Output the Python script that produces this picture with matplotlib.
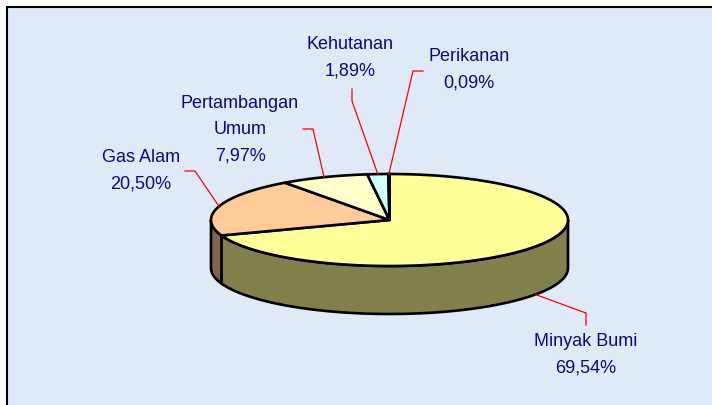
import numpy as np
import matplotlib.pyplot as plt
from matplotlib.patches import Polygon, Rectangle
from matplotlib import colors as mcolors

# data
sektor = ['Minyak Bumi', 'Gas Alam', 'Pertambangan\nUmum', 'Kehutanan', 'Perikanan']
persen = [69.54, 20.50, 7.97, 1.89, 0.09]
warna = ['#FFFF99', '#FFCC99', '#FFFFCC', '#CCFFFF', '#660066']

# label layout (pixel coords): text centre, leader elbow, leader end
teks_xy = [(586, 355), (141, 171), (240, 130), (350, 58), (469, 70)]
siku = [(586, 314), (195, 172), (313, 130), (352, 102), (413, 72)]
ujung = [(586, 326), (185, 172), (303, 130), (352, 90), (423, 72)]

W, H = 712, 406
cx, cy = 389.5, 221.0   # pie centre
a, b = 178.5, 46.0      # ellipse radii
depth = 48.0

fig = plt.figure(figsize=(W / 100, H / 100), dpi=100)
ax = fig.add_axes([0, 0, 1, 1])
ax.set_xlim(0, W)
ax.set_ylim(H, 0)
ax.axis('off')

ax.add_patch(Rectangle((7, 8), W + 10, H + 10, facecolor='#E0EAF7',
                       edgecolor='black', lw=1.5, zorder=0))


def titik(t, dy=0.0):
    t = np.radians(t)
    return cx + a * np.cos(t), cy - b * np.sin(t) + dy


# angles: start at 12 o'clock, clockwise
cum = np.concatenate([[0], np.cumsum(persen)])
t0 = 90 - 360 * cum[:-1] / 100
t1 = 90 - 360 * cum[1:] / 100

# side faces (front half only)
for i in range(len(persen)):
    sisi = [c * 0.5 for c in mcolors.to_rgb(warna[i])]
    for k in (-1, 0, 1):
        lo, hi = -180 - 360 * k, -360 * k
        s, e = max(t1[i], lo), min(t0[i], hi)
        if e <= s:
            continue
        tt = np.linspace(s, e, 100)
        xs, ys = titik(tt)
        xb, yb = titik(tt[::-1], depth)
        pts = np.column_stack([np.concatenate([xs, xb]), np.concatenate([ys, yb])])
        ax.add_patch(Polygon(pts, closed=True, facecolor=sisi,
                             edgecolor='black', lw=1.9, zorder=2))

# top faces
for i in range(len(persen)):
    tt = np.linspace(t0[i], t1[i], 200)
    xs, ys = titik(tt)
    pts = np.column_stack([np.concatenate([[cx], xs]), np.concatenate([[cy], ys])])
    ax.add_patch(Polygon(pts, closed=True, facecolor=warna[i],
                         edgecolor='black', lw=1.9, zorder=3))

# leader lines and labels
for i in range(len(persen)):
    tm = (t0[i] + t1[i]) / 2
    depan = np.sin(np.radians(tm)) < 0
    x0, y0 = titik(tm, depth if depan else 0.0)
    ax.plot([x0, siku[i][0], ujung[i][0]], [y0, siku[i][1], ujung[i][1]],
            color='red', lw=0.9, zorder=4)

    baris = sektor[i].split('\n') + [f"{persen[i]:.2f}".replace('.', ',') + '%']
    tx, ty = teks_xy[i]
    n = len(baris)
    for j, s in enumerate(baris):
        ax.text(tx, ty + (j - (n - 1) / 2) * 26.5, s, ha='center', va='center',
                fontsize=13, color='#0A0A80', family='Liberation Sans', zorder=5)

fig.savefig('out.png', dpi=100)
